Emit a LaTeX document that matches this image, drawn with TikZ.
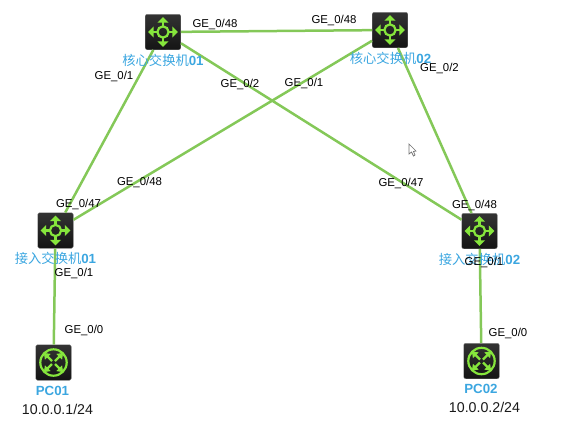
\documentclass[tikz,border=0pt]{standalone}
\usepackage{fontspec}
\setmainfont{Liberation Sans}
\newfontfamily\cjk{Noto Sans CJK SC}
\definecolor{linkgreen}{HTML}{84C858}
\definecolor{icongreen}{HTML}{86E63C}
\definecolor{namecyan}{HTML}{3BA6E0}
\definecolor{boxdark}{HTML}{333333}
\newcommand{\iconarrow}{%
  \draw[icongreen,line width=2.4pt] (6,0) -- (11,0);
  \fill[icongreen] (14.8,0) -- (9.3,5.6) -- (9.3,-5.6) -- cycle;
}
\newcommand{\crossarrow}{%
  \draw[icongreen,line width=2.4pt] (1.5,1.5) -- (7,7);
  \fill[icongreen] (9.6,9.6) -- (2.8,8.6) -- (8.6,2.8) -- cycle;
}
\newcommand{\devlabel}[2]{{\cjk #1}\textbf{#2}}
\tikzset{
  device/.style={rectangle,rounded corners=2pt,minimum size=35.5pt,inner sep=0pt,
    top color=boxdark,bottom color=black!92!white,draw=black!50},
  link/.style={linkgreen,line width=2.5pt},
  port/.style={font=\fontsize{11.4}{13}\selectfont,inner sep=0pt,text=black},
  devname/.style={font=\fontsize{13.3}{15}\selectfont,inner sep=0pt,text=namecyan},
  addr/.style={font=\fontsize{14.2}{16}\selectfont,inner sep=0pt,text=black!90},
  switchicon/.pic={
    \draw[icongreen,line width=2.2pt] (0,0) circle (5.6);
    \foreach \a in {0,90,180,270} {
      \begin{scope}[rotate=\a] \iconarrow \end{scope}
    }
  },
  hosticon/.pic={
    \draw[icongreen,line width=2.2pt] (0,0) circle (13.2);
    \foreach \a in {0,90,180,270} {
      \begin{scope}[rotate=\a] \crossarrow \end{scope}
    }
  }
}
\begin{document}
\begin{tikzpicture}[x=1pt,y=-1pt]
\useasboundingbox (0,0) rectangle (576,437);
% devices
\node[device] (core01) at (163,32) {};
\node[device] (core02) at (390,30) {};
\node[device] (acc01) at (55.5,230.5) {};
\node[device] (acc02) at (479.5,231) {};
\node[device] (pc01) at (53.5,362.5) {};
\node[device] (pc02) at (481.5,361) {};
\pic at (core01) {switchicon};
\pic at (core02) {switchicon};
\pic at (acc01) {switchicon};
\pic at (acc02) {switchicon};
\pic at (pc01) {hosticon};
\pic at (pc02) {hosticon};
% links
\draw[link] (core01) -- (core02);
\draw[link] (core01) -- (acc01);
\draw[link] (core01) -- (acc02);
\draw[link] (core02) -- (acc01);
\draw[link] (core02) -- (acc02);
\draw[link] (acc01) -- (pc01);
\draw[link] (acc02) -- (pc02);
% names
\node[devname] (namecore01) at (163,60) {\devlabel{核心交换机}{01}};
\node[devname] (namecore02) at (390.5,58.5) {\devlabel{核心交换机}{02}};
\node[devname] (nameacc01) at (55.5,258) {\devlabel{接入交换机}{01}};
\node[devname] (nameacc02) at (479.5,259) {\devlabel{接入交换机}{02}};
\node[devname] (namepc01) at (52.5,391) {\textbf{PC01}};
\node[devname] (namepc02) at (481,389) {\textbf{PC02}};
\node[addr] (addrpc01) at (57.5,409) {10.0.0.1/24};
\node[addr] (addrpc02) at (484.5,407) {10.0.0.2/24};
% ports
\node[port] (p1) at (215,24) {GE\_0/48};
\node[port] (p2) at (334,20) {GE\_0/48};
\node[port] (p3) at (114,76) {GE\_0/1};
\node[port] (p4) at (240,84) {GE\_0/2};
\node[port] (p5) at (304,83) {GE\_0/1};
\node[port] (p6) at (439.5,68) {GE\_0/2};
\node[port] (p7) at (139.5,182) {GE\_0/48};
\node[port] (p8) at (401,183) {GE\_0/47};
\node[port] (p9) at (78.5,204) {GE\_0/47};
\node[port] (p10) at (474.5,205) {GE\_0/48};
\node[port] (p11) at (74,273) {GE\_0/1};
\node[port] (p12) at (484,262) {GE\_0/1};
\node[port] (p13) at (84,330) {GE\_0/0};
\node[port] (p14) at (508,333) {GE\_0/0};
% cursor
\draw[black!55,fill=white,line width=.7pt] (409,144) -- (409,154) -- (411.5,152) -- (413.5,156) -- (415,155) -- (413.5,151.5) -- (416,151) -- cycle;
\end{tikzpicture}
\end{document}
